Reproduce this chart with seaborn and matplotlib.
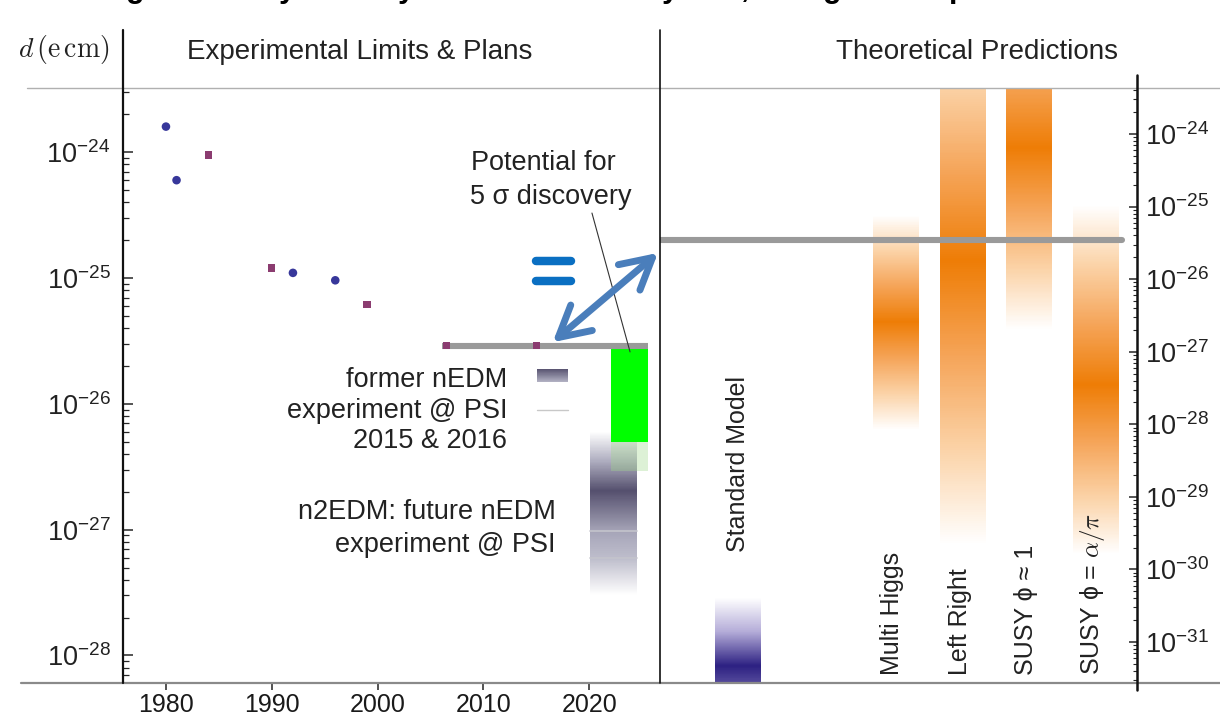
import numpy as np
import matplotlib
matplotlib.use("Agg")
import matplotlib.pyplot as plt
import seaborn as sns
from matplotlib.colors import LinearSegmentedColormap
from matplotlib.lines import Line2D
from matplotlib.ticker import LogLocator, FuncFormatter, NullFormatter, FixedLocator
import matplotlib.transforms as mtransforms

# ---------------- data ----------------
circle_years = [1980, 1981, 1992, 1996]
circle_limits = [1.6e-24, 6.0e-25, 1.1e-25, 9.6e-26]
square_years = [1984, 1990, 1999, 2006.5, 2015]
square_limits = [9.5e-25, 1.2e-25, 6.2e-26, 2.9e-26, 2.9e-26]
current_limit = 2.9e-26
current_limit_years = [2006.1, 2025.6]
discovery_years = [2022.1, 2025.6]
discovery_range = [2.9e-26, 5.0e-27]
discovery_faint_bottom = 2.95e-27
n2edm_years = [2020.1, 2024.5]
n2edm_log_stops = [-26.22, -26.69, -27.01, -27.23, -27.52]
n2edm_levels = [0.0, 1.0, 0.55, 0.40, 0.0]
n2edm_lines = [9.8e-28, 5.95e-28]
x_ticks = [1980, 1990, 2000, 2010, 2020]
left_decades = [-28, -27, -26, -25, -24]
right_decades = [-31, -30, -29, -28, -27, -26, -25, -24]

theory_models = ["Multi Higgs", "Left Right", "SUSY \u03d5 \u2248 1", "SUSY \u03d5 = $\\alpha/\\pi$"]
theory_upper = [7.6e-26, 7.9e-23, 3.5e-22, 1.05e-25]
theory_peak = [2.6e-27, 1.8e-26, 6.5e-25, 3.5e-28]
theory_lower = [8.3e-29, 2.2e-30, 2.0e-27, 1.6e-30]
sm_label = "Standard Model"
sm_stops = [4.1e-31, 4.7e-32, 2.7e-32]
sm_levels = [0.0, 1.0, 0.85]
theory_current = 3.5e-26

# ---------------- style ----------------
sns.set_style("white")
plt.rcParams["font.family"] = ["Liberation Sans", "DejaVu Sans"]
plt.rcParams["mathtext.fontset"] = "custom"
plt.rcParams["mathtext.rm"] = "Liberation Sans"
plt.rcParams["mathtext.it"] = "Liberation Sans:italic"

W, H = 1220, 716
fig = plt.figure(figsize=(W / 100, H / 100), dpi=100)


def fx(x):
    return x / W


def fy(y):
    return 1 - y / H


def fig_line(x0, y0, x1, y1, **kw):
    fig.add_artist(Line2D([fx(x0), fx(x1)], [fy(y0), fy(y1)], transform=fig.transFigure, **kw))


ax1 = fig.add_axes([fx(123), fy(683), fx(660 - 123), (683 - 88) / H])
ax2 = fig.add_axes([fx(660), fy(683), fx(1137 - 660), (683 - 88) / H])
for a in (ax1, ax2):
    for s in a.spines.values():
        s.set_visible(False)
    a.set_facecolor("none")

orange = LinearSegmentedColormap.from_list("o", ["#ffffff", "#fbd3a8", "#f5a458", "#ee7d06"])
purple = LinearSegmentedColormap.from_list("p", ["#ffffff", "#b4acd8", "#2d2182"])
grey = LinearSegmentedColormap.from_list("g", ["#ffffff", "#aeadbf", "#55506e"])


def gradient_band(ax, x0, x1, log_stops, levels, cmap, n=300):
    ls = np.array(log_stops, float)
    lv = np.array(levels, float)
    order = np.argsort(ls)
    edges = np.linspace(ls.min(), ls.max(), n + 1)
    centers = 0.5 * (edges[:-1] + edges[1:])
    vals = np.interp(centers, ls[order], lv[order])
    ax.pcolormesh([x0, x1], 10 ** edges, vals[:, None], cmap=cmap, vmin=0, vmax=1,
                  shading="flat", edgecolors="none", antialiased=False, linewidth=0)


# ---------------- left panel ----------------
ax1.set_yscale("log")
ax1.set_xlim(1975.94, 2026.69)
ax1.set_ylim(10 ** -28.219, 10 ** -23.489)

# n2EDM sensitivity band
gradient_band(ax1, n2edm_years[0], n2edm_years[1], n2edm_log_stops, n2edm_levels, grey)
for v in n2edm_lines:
    ax1.plot(n2edm_years, [v, v], color="#c4c4cc", lw=1.2)
# discovery potential
ax1.fill_between(discovery_years, discovery_range[1], discovery_range[0], color="#00ff00", lw=0)
ax1.fill_between(discovery_years, discovery_faint_bottom, discovery_range[1], color="#9fd88a", alpha=0.35, lw=0)
# current limit line
ax1.plot(current_limit_years, [current_limit] * 2, color="#9a9a9a", lw=4.4, solid_capstyle="butt")

sns.scatterplot(x=circle_years, y=circle_limits, ax=ax1, color="#37379a", marker="o", s=38,
                edgecolor="none", zorder=5)
sns.scatterplot(x=square_years, y=square_limits, ax=ax1, color="#8b3c70", marker="s", s=28,
                edgecolor="none", zorder=5)

# legend-like items
gradient_band(ax1, 2015.07, 2018.0, [-25.72, -25.83], [1.0, 0.45], grey, n=40)
ax1.plot([2015.07, 2018.0], [10 ** -26.05] * 2, color="#c8c8c8", lw=1)

tk = dict(fontsize=19.5, color="#222222")
ax1.text(2012.25, 10 ** -25.81, "former nEDM", ha="right", va="center", **tk)
ax1.text(2012.25, 10 ** -26.056, "experiment @ PSI", ha="right", va="center", **tk)
ax1.text(2012.25, 10 ** -26.295, "2015 & 2016", ha="right", va="center", **tk)
ax1.text(2016.86, 10 ** -26.86, "n2EDM: future nEDM", ha="right", va="center", **tk)
ax1.text(2016.86, 10 ** -27.12, "experiment @ PSI", ha="right", va="center", **tk)
ax1.text(2008.8, 10 ** -24.085, "Potential for", ha="left", va="center", **tk)
ax1.text(2008.7, 10 ** -24.355, "5 \u03c3 discovery", ha="left", va="center", **tk)
ax1.plot([2020.26, 2023.86], [10 ** -24.483, 10 ** -25.587], color="#333333", lw=0.8, clip_on=False)

# blue "=" and double arrow
for lv in (-24.864, -25.023):
    ax1.plot([2014.97, 2018.28], [10 ** lv] * 2, color="#0a6fc2", lw=6.1, solid_capstyle="round")
ax1.annotate("", xy=(2016.55, 10 ** -25.51), xytext=(2026.5, 10 ** -24.80),
             arrowprops=dict(arrowstyle="<->,head_length=1.1,head_width=0.6", lw=5, color="#4a7ebb",
                             shrinkA=0, shrinkB=0, mutation_scale=20, capstyle="round",
                             joinstyle="round"), annotation_clip=False, zorder=6)

ax1.set_xticks(x_ticks)
ax1.set_xticklabels([str(t) for t in x_ticks])
ax1.tick_params(axis="x", direction="out", length=5, width=1.2, color="#333333", pad=2,
                labelsize=18, labelcolor="#1a1a1a", bottom=True)
ax1.yaxis.set_major_locator(FixedLocator([10.0 ** d for d in left_decades]))
ax1.yaxis.set_minor_locator(LogLocator(base=10, subs=np.arange(2, 10), numticks=20))
ax1.yaxis.set_major_formatter(FuncFormatter(lambda v, p: r"$\mathregular{10^{%d}}$" % round(np.log10(v))))
ax1.yaxis.set_minor_formatter(NullFormatter())
ax1.tick_params(axis="y", which="major", direction="in", length=7, width=1.1, pad=9,
                labelsize=19.5, labelcolor="#222222", left=True)
ax1.tick_params(axis="y", which="minor", direction="in", length=4, width=0.9, left=True)
ax1.set_xlabel("")
ax1.set_ylabel("")

# ---------------- right panel ----------------
ax2.set_yscale("log")
ax2.set_xlim(0, 7.173)
ax2.set_ylim(10 ** -31.565, 10 ** -23.366)
sm_pos = 1.17
theory_pos = [3.55, 4.55, 5.55, 6.55]
bw = 0.69

gradient_band(ax2, sm_pos - bw / 2, sm_pos + bw / 2, np.log10(sm_stops), sm_levels, purple)
for xp, up, pk, lo in zip(theory_pos, theory_upper, theory_peak, theory_lower):
    gradient_band(ax2, xp - bw / 2, xp + bw / 2, np.log10([up, pk, lo]), [0.0, 1.0, 0.0], orange)
ax2.axhline(theory_current, xmin=0, xmax=0.9686, color="#9a9a9a", lw=4.4)

btrans = mtransforms.blended_transform_factory(ax2.transData, ax2.transAxes)
ax2.text(sm_pos, 0.22, sm_label, rotation=90, ha="center", va="bottom", transform=btrans,
         fontsize=18, color="#222222")
label_x = [3.49, 4.51, 5.50, 6.50]
for xp, name in zip(label_x, theory_models):
    kw = {}
    if "alpha" in name:
        kw["math_fontfamily"] = "cm"
    ax2.text(xp, 0.0134, name, rotation=90, ha="center", va="bottom", transform=btrans,
             fontsize=18, color="#222222", **kw)

ax2.set_xticks([])
ax2.yaxis.tick_right()
ax2.yaxis.set_major_locator(FixedLocator([10.0 ** d for d in right_decades]))
ax2.yaxis.set_minor_locator(LogLocator(base=10, subs=np.arange(2, 10), numticks=30))
ax2.yaxis.set_major_formatter(FuncFormatter(lambda v, p: r"$\mathregular{10^{%d}}$" % round(np.log10(v))))
ax2.yaxis.set_minor_formatter(NullFormatter())
ax2.tick_params(axis="y", which="major", direction="in", length=6, width=1.1, pad=6,
                labelsize=19.5, labelcolor="#222222", right=True, left=False)
ax2.tick_params(axis="y", which="minor", direction="in", length=3, width=0.8, right=True, left=False)

# ---------------- frame lines ----------------
fig_line(27, 88, 1220, 88, color="#b0b0b0", lw=1.0)
fig_line(21, 683, 1220, 683, color="#8a8a8a", lw=1.6)
fig_line(123, 30, 123, 683, color="#111111", lw=1.6)
fig_line(660, 30, 660, 683, color="#111111", lw=1.2)
fig_line(1137, 75, 1137, 690, color="#111111", lw=1.8)

# headers
fig.text(fx(360), fy(52), "Experimental Limits & Plans", ha="center", va="center", fontsize=20, color="#222222")
fig.text(fx(977), fy(52), "Theoretical Predictions", ha="center", va="center", fontsize=20, color="#222222")
fig.text(fx(18), fy(50), r"$d\,(\mathrm{e\,cm})$", ha="left", va="center", fontsize=20,
         color="#222222", math_fontfamily="cm")

# cut-off slide title (only descenders visible)
for ch, xc in zip(["g", "y", "y", "y", ",", "g", "p"], [135, 287, 406, 670, 745, 832, 958]):
    fig.text(fx(xc), fy(-3), ch, ha="center", va="baseline", fontsize=22, fontweight="bold", color="black")

fig.savefig("out.png", dpi=100)
